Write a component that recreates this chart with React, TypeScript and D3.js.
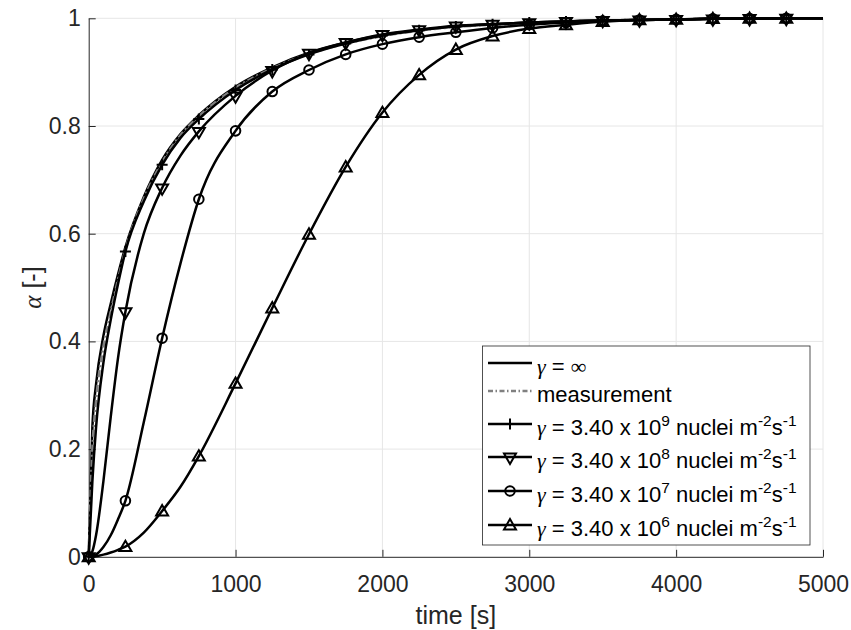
import React, { useEffect, useRef } from "react";
import * as d3 from "d3";

// time samples [s]
const times = [0, 25, 50, 100, 150, 200, 250, 375, 500, 625, 750, 1000, 1250, 1500, 1750, 2000, 2250, 2500, 2750, 3000, 3250, 3500, 3750, 4000, 4250, 4500, 4750, 5000];

// transformed fraction alpha for each curve
const alphaInf = [0, 0.24, 0.32, 0.41, 0.47, 0.525, 0.575, 0.668, 0.737, 0.785, 0.82, 0.873, 0.909, 0.936, 0.955, 0.969, 0.978, 0.985, 0.989, 0.992, 0.994, 0.996, 0.997, 0.998, 0.999, 0.9995, 1, 1];
const measurement = [0, 0.2, 0.29, 0.39, 0.455, 0.515, 0.57, 0.665, 0.733, 0.783, 0.818, 0.871, 0.907, 0.934, 0.953, 0.967, 0.977, 0.984, 0.988, 0.991, 0.994, 0.996, 0.997, 0.998, 0.999, 0.9995, 1, 1];
const alpha9 = [0, 0.14, 0.24, 0.36, 0.44, 0.507, 0.567, 0.66, 0.728, 0.778, 0.813, 0.867, 0.905, 0.933, 0.953, 0.968, 0.978, 0.985, 0.989, 0.992, 0.994, 0.996, 0.997, 0.998, 0.999, 0.9995, 1, 1];
const alpha8 = [0, 0.01, 0.04, 0.14, 0.26, 0.37, 0.455, 0.6, 0.685, 0.745, 0.79, 0.856, 0.903, 0.935, 0.955, 0.97, 0.979, 0.986, 0.989, 0.992, 0.994, 0.996, 0.997, 0.998, 0.999, 0.9995, 1, 1];
const alpha7 = [0, 0.001, 0.004, 0.018, 0.04, 0.07, 0.104, 0.25, 0.406, 0.545, 0.664, 0.791, 0.864, 0.904, 0.933, 0.952, 0.965, 0.974, 0.982, 0.988, 0.992, 0.995, 0.997, 0.998, 0.999, 0.9995, 1, 1];
const alpha6 = [0, 0.0005, 0.001, 0.004, 0.008, 0.013, 0.019, 0.045, 0.085, 0.13, 0.187, 0.322, 0.462, 0.599, 0.724, 0.825, 0.895, 0.942, 0.967, 0.981, 0.988, 0.994, 0.997, 0.998, 0.9995, 1, 1, 1];

const exponents = [9, 8, 7, 6];
const xTicks = [0, 1000, 2000, 3000, 4000, 5000];
const yTicks = [0, 0.2, 0.4, 0.6, 0.8, 1];

const App = () => {
  const ref = useRef<SVGSVGElement>(null);

  useEffect(() => {
    const width = 851;
    const height = 630;
    const margin = { top: 18.3, right: 28, bottom: 73.2, left: 88.7 };
    const w = width - margin.left - margin.right;
    const h = height - margin.top - margin.bottom;
    const axisColor = "#262626";
    const sans = "'Liberation Sans', Arial, Helvetica, sans-serif";
    const serif = "'Liberation Serif', 'Times New Roman', serif";

    const svg = d3.select(ref.current);
    svg.selectAll("*").remove();
    svg.attr("width", width).attr("height", height);

    const g = svg.append("g").attr("transform", `translate(${margin.left},${margin.top})`);

    const x = d3.scaleLinear().domain([0, 5000]).range([0, w]);
    const y = d3.scaleLinear().domain([0, 1]).range([h, 0]);

    // grid
    g.selectAll(".gx")
      .data(xTicks.slice(1))
      .enter()
      .append("line")
      .attr("x1", (d) => x(d))
      .attr("x2", (d) => x(d))
      .attr("y1", 0)
      .attr("y2", h)
      .attr("stroke", "#e6e6e6");
    g.selectAll(".gy")
      .data(yTicks.slice(1))
      .enter()
      .append("line")
      .attr("x1", 0)
      .attr("x2", w)
      .attr("y1", (d) => y(d))
      .attr("y2", (d) => y(d))
      .attr("stroke", "#e6e6e6");

    // axes (ticks point inward)
    const xAxis = g
      .append("g")
      .attr("transform", `translate(0,${h})`)
      .call(d3.axisBottom(x).tickValues(xTicks).tickSizeInner(-7).tickSizeOuter(0).tickPadding(19).tickFormat(d3.format("d")));
    const yAxis = g
      .append("g")
      .call(d3.axisLeft(y).tickValues(yTicks).tickSizeInner(-7).tickSizeOuter(0).tickPadding(8).tickFormat((d) => String(d)));
    [xAxis, yAxis].forEach((a) => {
      a.select(".domain").attr("stroke", axisColor);
      a.selectAll(".tick line").attr("stroke", axisColor);
      a.selectAll(".tick text").attr("fill", axisColor).style("font-family", sans).style("font-size", "23px");
    });

    const series = [
      { values: alphaInf, color: "#000", dash: null, marker: null },
      { values: measurement, color: "#808080", dash: "7,3,2,3", marker: null },
      { values: alpha9, color: "#000", dash: null, marker: "plus" },
      { values: alpha8, color: "#000", dash: null, marker: "down" },
      { values: alpha7, color: "#000", dash: null, marker: "circle" },
      { values: alpha6, color: "#000", dash: null, marker: "up" },
    ];

    const markerPath = (kind: string) => {
      if (kind === "plus") return "M-5.5,0H5.5M0,-5.5V5.5";
      if (kind === "circle") return d3.symbol().type(d3.symbolCircle).size(72)() as string;
      return d3.symbol().type(d3.symbolTriangle).size(62)() as string;
    };
    const markerTransform = (kind: string, px: number, py: number) =>
      kind === "down" ? `translate(${px},${py}) rotate(180)` : kind === "up" ? `translate(${px},${py + 1})` : `translate(${px},${py})`;

    const line = d3
      .line<number>()
      .x((d, i) => x(times[i]))
      .y((d) => y(d))
      .curve(d3.curveMonotoneX);

    series.forEach((s) => {
      g.append("path")
        .attr("d", line(s.values))
        .attr("fill", "none")
        .attr("stroke", s.color)
        .attr("stroke-width", 2.5)
        .attr("stroke-dasharray", s.dash);
      if (s.marker) {
        const pts = times
          .map((t, i) => [t, s.values[i]])
          .filter((d) => d[0] % 250 === 0 && d[0] <= 4750);
        g.selectAll(null)
          .data(pts)
          .enter()
          .append("path")
          .attr("d", markerPath(s.marker))
          .attr("transform", (d) => markerTransform(s.marker as string, x(d[0]), y(d[1])))
          .attr("fill", "none")
          .attr("stroke", "#000")
          .attr("stroke-width", 2);
      }
    });

    // axis labels
    svg
      .append("text")
      .attr("x", margin.left + w / 2)
      .attr("y", 624)
      .attr("text-anchor", "middle")
      .attr("fill", axisColor)
      .style("font-family", sans)
      .style("font-size", "25px")
      .text("time [s]");
    const yl = svg
      .append("text")
      .attr("transform", `translate(41,${margin.top + h / 2}) rotate(-90)`)
      .attr("text-anchor", "middle")
      .attr("fill", axisColor)
      .style("font-family", sans)
      .style("font-size", "25px");
    yl.append("tspan").style("font-family", serif).style("font-style", "italic").text("\u03b1");
    yl.append("tspan").text(" [-]");

    // legend
    const lg = svg.append("g");
    lg.append("rect")
      .attr("x", 482.5)
      .attr("y", 346)
      .attr("width", 327.5)
      .attr("height", 199)
      .attr("fill", "#fff")
      .attr("stroke", "#262626")
      .attr("stroke-width", 0.8);
    const rowY = [363, 391, 424, 457, 491, 525];
    series.forEach((s, i) => {
      const ly = rowY[i];
      lg.append("line")
        .attr("x1", 488)
        .attr("x2", 532)
        .attr("y1", ly)
        .attr("y2", ly)
        .attr("stroke", s.color)
        .attr("stroke-width", 2.5)
        .attr("stroke-dasharray", s.dash ? "5,2.5,1.5,2.5" : null);
      if (s.marker) {
        lg.append("path")
          .attr("d", markerPath(s.marker))
          .attr("transform", markerTransform(s.marker, 510, ly))
          .attr("fill", "none")
          .attr("stroke", "#000")
          .attr("stroke-width", 2);
      }
      const t = lg
        .append("text")
        .attr("x", 537)
        .attr("y", ly + 10.5)
        .attr("fill", "#000")
        .style("font-family", sans)
        .style("font-size", "22px");
      if (i === 1) {
        t.text("measurement");
        return;
      }
      t.append("tspan").style("font-family", serif).style("font-style", "italic").text("\u03b3");
      if (i === 0) {
        t.append("tspan").text(" = ");
        t.append("tspan").style("font-family", serif).text("\u221e");
        return;
      }
      t.append("tspan").text(" = 3.40 x 10");
      t.append("tspan").attr("dy", -9).style("font-size", "15.5px").text(String(exponents[i - 2]));
      t.append("tspan").attr("dy", 9).text(" nuclei m");
      t.append("tspan").attr("dy", -9).style("font-size", "15.5px").text("-2");
      t.append("tspan").attr("dy", 9).text("s");
      t.append("tspan").attr("dy", -9).style("font-size", "15.5px").text("-1");
    });
  }, []);

  return <svg ref={ref} style={{ position: "absolute", left: 0, top: 0 }}></svg>;
};

export default App;
